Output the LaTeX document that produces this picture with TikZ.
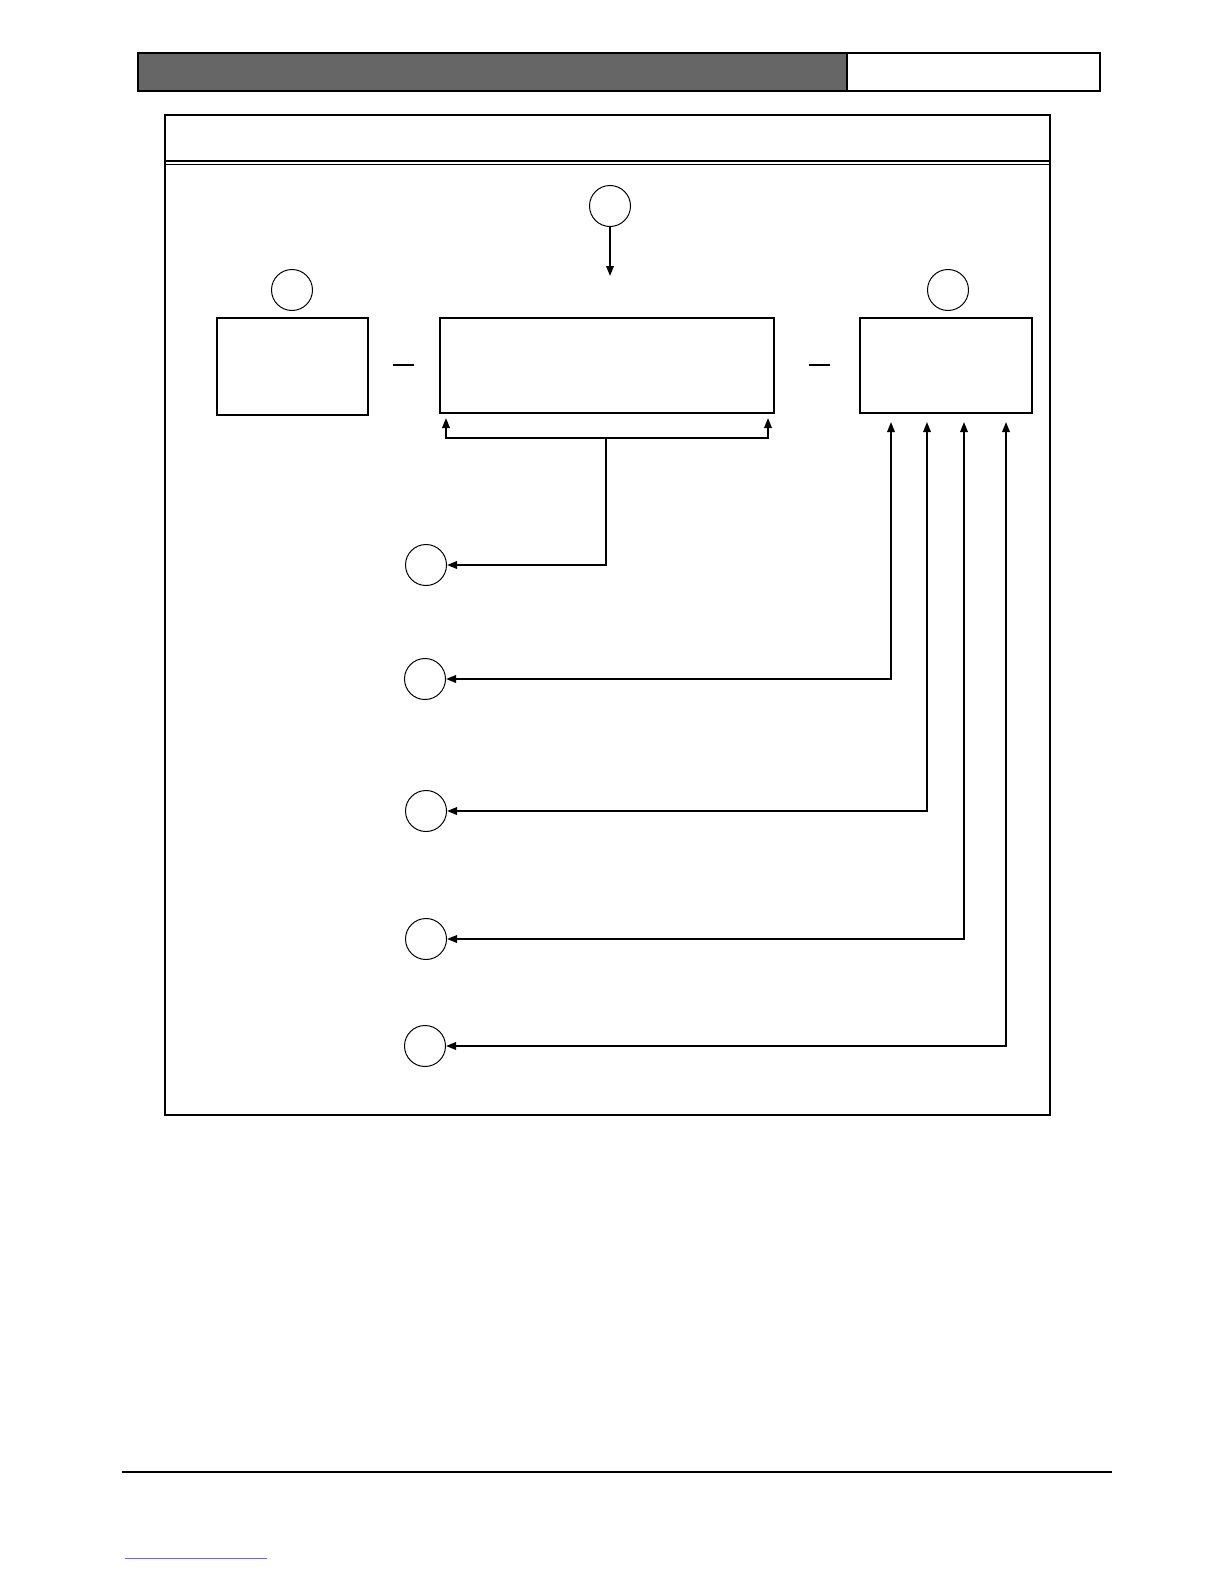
\documentclass[tikz,border=0pt]{standalone}
\usetikzlibrary{arrows.meta}
\definecolor{hdrgray}{HTML}{666666}
\tikzset{
  box/.style={draw, line width=1.6pt, inner sep=0pt},
  circ/.style={draw, circle, line width=1pt, minimum size=41pt, inner sep=0pt},
  conn/.style={line width=1.8pt},
  arr/.style={conn, -{Triangle[length=10pt,width=7.5pt]}},
  dbl/.style={conn, {Triangle[length=10pt,width=7.5pt]}-{Triangle[length=10pt,width=7.5pt]}},
  frame/.style={line width=1.2pt},
}
\begin{document}
\begin{tikzpicture}[x=1pt,y=-1pt]
\useasboundingbox (0,0) rectangle (1224,1584);
% header
\fill[hdrgray] (138,53) rectangle (847,91);
\draw[frame] (138,53) rectangle (1100,91);
\draw[frame] (847,53) -- (847,91);
% main frame
\draw[frame] (165,115) rectangle (1050,1115);
\draw[frame] (165,161) -- (1050,161);
\draw[frame] (165,164.5) -- (1050,164.5);
% boxes
\node[box, minimum width=151pt, minimum height=97pt] (L) at (292.5,366.5) {};
\node[box, minimum width=334pt, minimum height=95pt] (M) at (607,365.5) {};
\node[box, minimum width=172pt, minimum height=95pt] (R) at (946,365.5) {};
% top circles
\node[circ] (ctop) at (610,206) {};
\node[circ] (cl) at (292,290) {};
\node[circ] (cr) at (948,290) {};
% left circles
\node[circ] (c1) at (426,565) {};
\node[circ] (c2) at (425,679) {};
\node[circ] (c3) at (426,811) {};
\node[circ] (c4) at (426,939) {};
\node[circ] (c5) at (425,1046) {};
% dashes between boxes
\draw[conn] (393,365) -- (414,365);
\draw[conn] (809,365) -- (830,365);
% arrow from top circle
\coordinate (mt) at (610,276);
\draw[arr] (ctop) -- (mt);
% bracket below middle box
\coordinate (t1) at (446,418);
\coordinate (t2) at (768,418);
\coordinate (b1) at (446,438);
\coordinate (b2) at (768,438);
\coordinate (jn) at (606,438);
\draw[dbl] (t1) -- (b1) -- (b2) -- (t2);
\draw[arr] (jn) |- (c1);
% right box arrows
\coordinate (r1) at (891,422);
\coordinate (r2) at (927,422);
\coordinate (r3) at (964,422);
\coordinate (r4) at (1006,422);
\draw[dbl] (r1) |- (c2);
\draw[dbl] (r2) |- (c3);
\draw[dbl] (r3) |- (c4);
\draw[dbl] (r4) |- (c5);
% footer
\draw[frame] (122,1472) -- (1112,1472);
\draw[blue!60, line width=0.6pt] (125,1558) -- (267,1558);
\end{tikzpicture}
\end{document}
